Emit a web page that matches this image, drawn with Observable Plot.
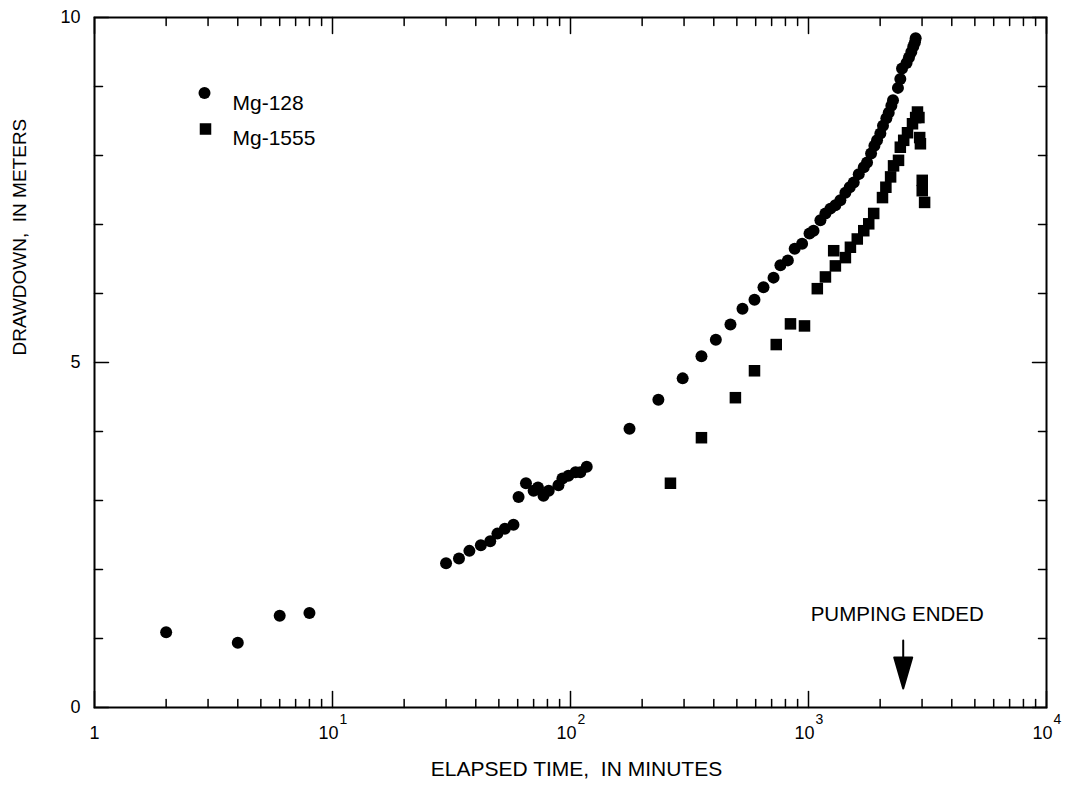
<!DOCTYPE html>
<html>
<head>
<meta charset="utf-8">
<script src="https://cdn.jsdelivr.net/npm/d3@7"></script>
<script src="https://cdn.jsdelivr.net/npm/@observablehq/plot@0.6"></script>
<style>
  body { margin: 0; background: #fff; }
  #chart svg { display: block; }
</style>
</head>
<body>
<div id="chart"></div>
<script>
// ---------- DATA ----------
const seriesNames = ["Mg-128", "Mg-1555"];

const mg128Time = [2, 4, 6, 8, 30, 34, 37.6, 42, 46, 49.3, 53, 57.6, 60.5, 65, 70, 73, 77, 81, 89, 92.5, 98, 105, 110, 117,
  177, 234, 296, 355, 408, 470, 528, 593, 647, 713, 762, 819, 875, 940, 1010, 1050, 1122, 1178, 1236, 1297, 1361,
  1429, 1490, 1549, 1626, 1707, 1762, 1832, 1892, 1941, 2004, 2056, 2124, 2173, 2229, 2265, 2376, 2431, 2472,
  2582, 2643, 2704, 2756, 2800, 2820];
const mg128Drawdown = [1.09, 0.94, 1.33, 1.37, 2.09, 2.16, 2.27, 2.35, 2.41, 2.52, 2.59, 2.65, 3.05, 3.25, 3.14, 3.19, 3.07, 3.14, 3.22, 3.32, 3.36, 3.41, 3.41, 3.49,
  4.04, 4.46, 4.77, 5.09, 5.33, 5.55, 5.78, 5.91, 6.09, 6.23, 6.41, 6.48, 6.65, 6.72, 6.87, 6.91, 7.06, 7.16, 7.23, 7.28, 7.35,
  7.46, 7.54, 7.61, 7.73, 7.83, 7.90, 8.03, 8.14, 8.22, 8.32, 8.43, 8.54, 8.62, 8.72, 8.80, 8.98, 9.11, 9.26,
  9.34, 9.42, 9.50, 9.58, 9.64, 9.70];

const mg1555Time = [263, 355, 493, 593, 732, 840, 962, 1089, 1178, 1276, 1297, 1429, 1500, 1603, 1707, 1791, 1879,
  2046, 2114, 2213, 2277, 2389, 2431, 2512, 2606, 2735, 2820, 2870, 2911, 2932, 2953, 3005, 3005, 3075];
const mg1555Drawdown = [3.25, 3.91, 4.49, 4.88, 5.26, 5.56, 5.53, 6.07, 6.24, 6.62, 6.40, 6.52, 6.67, 6.79, 6.91, 7.01, 7.16,
  7.39, 7.54, 7.69, 7.85, 7.93, 8.12, 8.22, 8.33, 8.46, 8.55, 8.63, 8.55, 8.26, 8.17, 7.64, 7.49, 7.32];

const pumpingEnded = [{ time: 2500, label: "PUMPING ENDED" }];

const xDomain = [1, 10000];
const yDomain = [0, 10];
const xMajorTicks = [1, 10, 100, 1000, 10000];
const xTickBases = ["1", "10", "10", "10", "10"];
const xTickExponents = ["", "1", "2", "3", "4"];
const xMinorMultipliers = [2, 3, 4, 5, 6, 7, 8, 9];
const yTicks = [0, 1, 2, 3, 4, 5, 6, 7, 8, 9, 10];
const yLabelTicks = [0, 5, 10];

const xTitle = "ELAPSED TIME,\u00a0 IN MINUTES";
const yTitle = "DRAWDOWN,\u00a0 IN METERS";

// ---------- DERIVED ----------
const mg128 = mg128Time.map((t, i) => ({ time: t, drawdown: mg128Drawdown[i] }));
const mg1555 = mg1555Time.map((t, i) => ({ time: t, drawdown: mg1555Drawdown[i] }));
const xMinorTicks = xMajorTicks.slice(0, -1).flatMap(d => xMinorMultipliers.map(m => m * d));
const yMinorTicks = yTicks.filter(d => !yLabelTicks.includes(d));
const xLabels = xMajorTicks.map((d, i) => ({ v: d, base: xTickBases[i], exp: xTickExponents[i] }));

const tickShape = { draw(ctx, l) { ctx.moveTo(0, 0); ctx.lineTo(0, -l); } };
const arrowShape = {
  draw(ctx, l) {
    ctx.moveTo(0, -l); ctx.lineTo(0, -20);
    ctx.moveTo(0, 0); ctx.lineTo(-9, -31); ctx.lineTo(9, -31); ctx.closePath();
  }
};

const tickCommon = { anchor: "start", shape: tickShape, strokeWidth: 1.5, stroke: "black" };

const ticksBottom = (data, len) => Plot.vector(data, { x: d => d, y: () => yDomain[0], length: len, rotate: 0, ...tickCommon });
const ticksTop = (data, len) => Plot.vector(data, { x: d => d, y: () => yDomain[1], length: len, rotate: 180, ...tickCommon });
const ticksLeft = (data, len) => Plot.vector(data, { y: d => d, x: () => xDomain[0], length: len, rotate: 90, ...tickCommon });
const ticksRight = (data, len) => Plot.vector(data, { y: d => d, x: () => xDomain[1], length: len, rotate: -90, ...tickCommon });

const chart = Plot.plot({
  width: 1070,
  height: 790,
  marginLeft: 94,
  marginRight: 24,
  marginTop: 17,
  marginBottom: 83,
  style: { fontFamily: "'Liberation Sans', Arial, sans-serif", fontSize: "18px", color: "black", background: "white" },
  x: { type: "log", domain: xDomain, axis: null },
  y: { domain: yDomain, axis: null },
  marks: [
    // ticks
    ticksBottom(xMinorTicks, 8), ticksBottom(xMajorTicks, 16),
    ticksTop(xMinorTicks, 8), ticksTop(xMajorTicks, 16),
    ticksLeft(yMinorTicks, 8), ticksLeft(yLabelTicks, 14),
    ticksRight(yMinorTicks, 8), ticksRight(yLabelTicks, 14),
    Plot.frame({ strokeWidth: 2, stroke: "black" }),
    // x tick labels
    Plot.text(xLabels.slice(0, 1), { x: "v", text: "base", frameAnchor: "bottom", dy: 31, fontSize: 18 }),
    Plot.text(xLabels.slice(1), { x: "v", text: "base", frameAnchor: "bottom", dy: 31, dx: -4, fontSize: 18 }),
    Plot.text(xLabels.slice(1), { x: "v", text: "exp", frameAnchor: "bottom", dy: 16, dx: 7, textAnchor: "start", fontSize: 14 }),
    // y tick labels
    Plot.text(yLabelTicks, { y: d => d, text: d => String(d), frameAnchor: "left", textAnchor: "end", dx: -14, fontSize: 18 }),
    // axis titles
    Plot.text([xTitle], { text: d => d, frameAnchor: "bottom", dy: 68, dx: 6, fontSize: 21 }),
    Plot.text([yTitle], { text: d => d, frameAnchor: "left", rotate: -90, dx: -75, dy: -7, fontSize: 19 }),
    // data
    Plot.dot(mg128, { x: "time", y: "drawdown", r: 6, fill: "black", stroke: "none", symbol: "circle" }),
    Plot.dot(mg1555, { x: "time", y: "drawdown", r: 6.5, fill: "black", stroke: "none", symbol: "square" }),
    // legend
    Plot.dot([seriesNames[0]], { frameAnchor: "top-left", dx: 110, dy: 75.5, r: 6, fill: "black", symbol: "circle" }),
    Plot.dot([seriesNames[1]], { frameAnchor: "top-left", dx: 111, dy: 111.5, r: 6.5, fill: "black", symbol: "square" }),
    Plot.text([seriesNames[0]], { text: d => d, frameAnchor: "top-left", dx: 138, dy: 77.5, textAnchor: "start", fontSize: 21 }),
    Plot.text([seriesNames[1]], { text: d => d, frameAnchor: "top-left", dx: 138, dy: 113, textAnchor: "start", fontSize: 21 }),
    // pumping ended annotation
    Plot.vector(pumpingEnded, { x: "time", frameAnchor: "bottom", dy: -19, length: 48, rotate: 0, anchor: "start", shape: arrowShape, fill: "black", stroke: "black", strokeWidth: 2 }),
    Plot.text(pumpingEnded, { x: "time", text: "label", frameAnchor: "bottom", dy: -87, dx: -6, fontSize: 20.5 })
  ]
});

document.getElementById("chart").appendChild(chart);
</script>
</body>
</html>
